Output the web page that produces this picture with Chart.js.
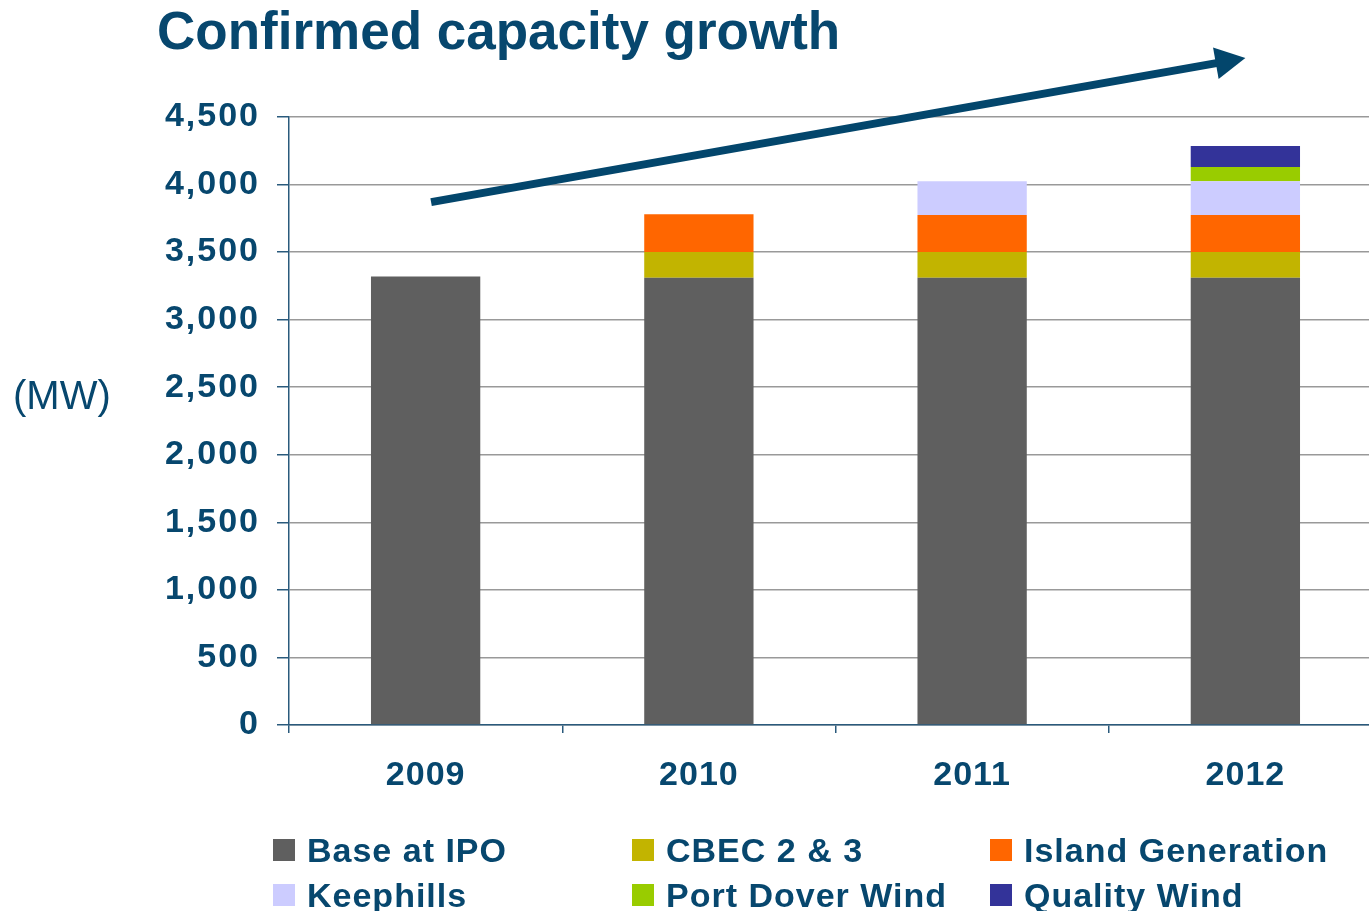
<!DOCTYPE html>
<html>
<head>
<meta charset="utf-8">
<script src="https://cdn.jsdelivr.net/npm/chart.js@4.4.1/dist/chart.umd.min.js"></script>
<style>
  html, body { margin: 0; padding: 0; background: #fff; overflow: hidden; }
  #wrap { position: relative; width: 1382px; height: 911px; }
  #chart { position: absolute; left: 0; top: 0; }
  .txt { position: absolute; color: #07476e; font-family: "Liberation Sans", Arial, sans-serif; white-space: nowrap; }
  #title { left: 157px; top: 5px; font-size: 53px; line-height: 52px; font-weight: bold; }
  #unit { left: 13px; top: 375px; font-size: 40px; line-height: 40px; }
  .leg { position: absolute; display: flex; align-items: center; height: 34px; font-size: 34px; line-height: 34px; font-weight: bold; letter-spacing: 1px; }
  .leg span.box { width: 22px; height: 22px; margin-right: 12px; display: inline-block; }
</style>
</head>
<body>
<div id="wrap">
  <canvas id="chart" width="1382" height="911"></canvas>
  <div id="title" class="txt">Confirmed capacity growth</div>
  <div id="unit" class="txt">(MW)</div>
  <div id="legend"></div>
</div>
<script>
const years = ["2009", "2010", "2011", "2012"];
const baseIPO = [3320, 3310, 3310, 3310];
const cbec = [0, 190, 190, 190];
const islandGen = [0, 280, 275, 275];
const keephills = [0, 0, 250, 250];
const portDover = [0, 0, 0, 105];
const qualityWind = [0, 0, 0, 155];
const yTicks = [0, 500, 1000, 1500, 2000, 2500, 3000, 3500, 4000, 4500];
// growth arrow, [category index, MW]
const arrowStart = [0.02, 3870];
const arrowEnd = [3, 4937];

const textColor = "#07476e";
const axisColor = "#2a5a7c";

const series = [
  { label: "Base at IPO", data: baseIPO, color: "#5f5f5f" },
  { label: "CBEC 2 & 3", data: cbec, color: "#c2b400" },
  { label: "Island Generation", data: islandGen, color: "#ff6600" },
  { label: "Keephills", data: keephills, color: "#ccccff" },
  { label: "Port Dover Wind", data: portDover, color: "#99cc00" },
  { label: "Quality Wind", data: qualityWind, color: "#333399" },
];

// wider tick text (the original labels are stretched a little)
const spacingPlugin = {
  id: "tickSpacing",
  afterLayout(chart) {
    const widen = (scale, sp) => {
      if (scale._spaced) return;
      const orig = scale.drawLabels;
      scale.drawLabels = function (area) {
        const ctx = this.ctx;
        ctx.save();
        ctx.letterSpacing = sp;
        orig.call(this, area);
        ctx.restore();
      };
      scale._spaced = true;
    };
    widen(chart.scales.y, "2px");
    widen(chart.scales.x, "1px");
  },
};

const arrowPlugin = {
  id: "arrow",
  afterDraw(chart) {
    const ctx = chart.ctx;
    const xs = chart.scales.x;
    const ys = chart.scales.y;
    const catW = xs.getPixelForValue(1) - xs.getPixelForValue(0);
    const x1 = xs.getPixelForValue(0) + arrowStart[0] * catW;
    const y1 = ys.getPixelForValue(arrowStart[1]);
    const x2 = xs.getPixelForValue(0) + arrowEnd[0] * catW;
    const y2 = ys.getPixelForValue(arrowEnd[1]);
    const len = Math.hypot(x2 - x1, y2 - y1);
    const ux = (x2 - x1) / len;
    const uy = (y2 - y1) / len;
    const headLen = 30;
    const headHalf = 16;
    const bx = x2 - ux * headLen;
    const by = y2 - uy * headLen;
    ctx.save();
    ctx.strokeStyle = "#03466c";
    ctx.fillStyle = "#03466c";
    ctx.lineWidth = 8;
    ctx.beginPath();
    ctx.moveTo(x1, y1);
    ctx.lineTo(bx + ux * 2, by + uy * 2);
    ctx.stroke();
    ctx.beginPath();
    ctx.moveTo(x2, y2);
    ctx.lineTo(bx - uy * headHalf, by + ux * headHalf);
    ctx.lineTo(bx + uy * headHalf, by - ux * headHalf);
    ctx.closePath();
    ctx.fill();
    ctx.restore();
  },
};

const chart = new Chart(document.getElementById("chart").getContext("2d"), {
  type: "bar",
  data: {
    labels: years,
    datasets: series.map((s) => ({
      label: s.label,
      data: s.data,
      backgroundColor: s.color,
      borderWidth: 0,
      barPercentage: 0.4,
      categoryPercentage: 1,
    })),
  },
  options: {
    responsive: false,
    animation: false,
    layout: { padding: { top: 117, left: 0, right: 0, bottom: 0 } },
    scales: {
      x: {
        stacked: true,
        offset: true,
        grid: {
          offset: true,
          drawOnChartArea: false,
          tickLength: 8,
          tickColor: axisColor,
          lineWidth: 1.5,
        },
        border: { color: axisColor, width: 1.5 },
        ticks: {
          color: textColor,
          padding: 22,
          font: { family: "Liberation Sans, Arial, sans-serif", size: 34, weight: "bold" },
        },
        afterFit: (s) => { s.height = 186; },
      },
      y: {
        stacked: true,
        min: yTicks[0],
        max: yTicks[yTicks.length - 1],
        afterBuildTicks: (s) => { s.ticks = yTicks.map((v) => ({ value: v })); },
        grid: {
          color: "#999999",
          lineWidth: 1.5,
          tickColor: axisColor,
          tickLength: 12,
        },
        border: { color: axisColor, width: 1.5 },
        ticks: {
          color: textColor,
          padding: 17,
          font: { family: "Liberation Sans, Arial, sans-serif", size: 34, weight: "bold" },
          callback: (v) => v.toLocaleString("en-US"),
        },
        afterFit: (s) => { s.width = 289; },
      },
    },
    plugins: {
      legend: { display: false },
      tooltip: { enabled: false },
    },
  },
  plugins: [spacingPlugin, arrowPlugin],
});

// html legend, 3 columns x 2 rows
const legendCols = [273, 632, 990];
const legendRows = [833, 878];
const legendEl = document.getElementById("legend");
series.forEach((s, i) => {
  const item = document.createElement("div");
  item.className = "leg txt";
  item.style.left = legendCols[i % 3] + "px";
  item.style.top = legendRows[Math.floor(i / 3)] + "px";
  item.innerHTML = '<span class="box" style="background:' + s.color + '"></span>' + s.label;
  legendEl.appendChild(item);
});
</script>
</body>
</html>
